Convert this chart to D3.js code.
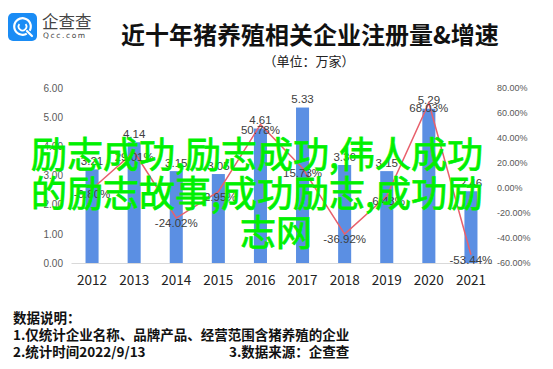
<!DOCTYPE html>
<html>
<head>
<meta charset="utf-8">
<script src="https://cdn.jsdelivr.net/npm/d3@7"></script>
<style>
  body { margin: 0; background: #fff; }
  svg { display: block; font-family: "Noto Sans CJK SC", "Noto Sans", sans-serif; }
</style>
</head>
<body>
<div id="chart"></div>
<script>
// Data
let years = ["2012", "2013", "2014", "2015", "2016", "2017", "2018", "2019", "2020", "2021"]
let counts = [3.21, 4.14, 3.15, 3.05, 4.61, 5.33, 3.36, 3.15, 5.29, 2.46]
let growth = [-0.80, 29.01, -24.02, -2.95, 50.78, 15.73, -36.92, -6.48, 68.03, -53.44]
let leftTicks = [0, 1, 2, 3, 4, 5, 6]
let rightTicks = [-60, -40, -20, 0, 20, 40, 60, 80]

let title = "近十年猪养殖相关企业注册量&增速"
let subtitle = "（单位：万家）"
let notes = ["数据说明：", "1.仅统计企业名称、品牌产品、经营范围含猪养殖的企业", "2.统计时间2022/9/13"]
let source = "3.数据来源：企查查"
let overlay = ["励志成功,励志成功,伟人成功", "的励志故事,成功励志,成功励", "志网"]

let w = 553
let h = 369
let plotLeft = 71, plotRight = 492, plotTop = 88, plotBottom = 263

let svg = d3.select("#chart").append("svg").attr("width", w).attr("height", h)

// Logo
let logo = svg.append("g")
logo.append("rect").attr("x", 8).attr("y", 13).attr("width", 29).attr("height", 28).attr("rx", 5).attr("fill", "#1a8cf5")
logo.append("path")
    .attr("d", d3.arc()({ innerRadius: 7.2, outerRadius: 9.4, startAngle: 2.6, endAngle: 2 * Math.PI + 2.1 }))
    .attr("transform", "translate(22.5,26.5)").attr("fill", "#fff")
logo.append("path")
    .attr("d", d3.arc()({ innerRadius: 3, outerRadius: 4.8, startAngle: 0.9, endAngle: 2 * Math.PI - 0.9 }))
    .attr("transform", "translate(22.5,26.5)").attr("fill", "#fff")
logo.append("line").attr("x1", 27).attr("y1", 31).attr("x2", 32).attr("y2", 36)
    .attr("stroke", "#fff").attr("stroke-width", 2.2).attr("stroke-linecap", "round")
svg.append("text").attr("x", 42).attr("y", 28).attr("font-size", 16.5).attr("fill", "#444").text("企查查")
svg.append("text").attr("x", 43).attr("y", 37.5).attr("font-size", 7.5).attr("letter-spacing", 1.6)
    .attr("font-family", "DejaVu Sans").attr("fill", "#444").text("Qcc.com")

// Titles
svg.append("text").attr("x", 310).attr("y", 33).attr("text-anchor", "middle").attr("dominant-baseline", "central")
    .attr("font-size", 24).attr("font-weight", "bold").attr("fill", "#111").text(title)
svg.append("text").attr("x", 309).attr("y", 60).attr("text-anchor", "middle").attr("dominant-baseline", "central")
    .attr("font-size", 13).attr("fill", "#222").text(subtitle)

// Scales
let xScale = d3.scaleBand().domain(years).range([plotLeft, plotRight]).paddingInner(0.69).paddingOuter(0.345)
let yLeft = d3.scaleLinear().domain([0, 6]).range([plotBottom, plotTop])
let yRight = d3.scaleLinear().domain([-60, 80]).range([plotBottom, plotTop])
let cx = d => xScale(d) + xScale.bandwidth() / 2

// Axes
let yAxisL = d3.axisLeft(yLeft).tickValues(leftTicks).tickFormat(d3.format(".2f")).tickSize(0).tickPadding(7)
svg.append("g").attr("id", "y-axis").attr("transform", "translate(" + (plotLeft - 1) + ",0)").call(yAxisL)
    .call(g => g.select(".domain").remove())
    .selectAll("text").attr("font-family", "Liberation Sans").attr("font-size", 10).attr("fill", "#595959")

let yAxisR = d3.axisRight(yRight).tickValues(rightTicks).tickFormat(d => d.toFixed(2) + "%").tickSize(0).tickPadding(5)
svg.append("g").attr("id", "y-axis-right").attr("transform", "translate(" + plotRight + ",0)").call(yAxisR)
    .call(g => g.select(".domain").remove())
    .selectAll("text").attr("font-family", "Liberation Sans").attr("font-size", 9).attr("fill", "#595959")

let xAxis = d3.axisBottom(xScale).tickSize(0).tickPadding(12)
svg.append("g").attr("id", "x-axis").attr("transform", "translate(0," + plotBottom + ")").call(xAxis)
    .call(g => g.select(".domain").attr("stroke", "#d9d9d9"))
    .selectAll("text").attr("font-family", "Noto Sans CJK SC").attr("font-size", 13.5).attr("fill", "#222")

// Bars
svg.selectAll(".bar").data(years).enter().append("rect")
    .attr("class", "bar")
    .attr("x", d => xScale(d))
    .attr("width", xScale.bandwidth())
    .attr("y", (d, i) => yLeft(counts[i]))
    .attr("height", (d, i) => plotBottom - yLeft(counts[i]))
    .attr("fill", "#5b8fe3")

svg.selectAll(".bar-label").data(years).enter().append("text")
    .attr("class", "bar-label")
    .attr("x", d => cx(d))
    .attr("y", (d, i) => yLeft(counts[i]) - 8.5)
    .attr("text-anchor", "middle").attr("dominant-baseline", "central")
    .attr("font-family", "Liberation Sans").attr("font-size", 11.5).attr("fill", "#404040")
    .text((d, i) => counts[i].toFixed(2))

// Growth line
let line = d3.line().x(d => cx(d[0])).y(d => yRight(d[1]))
svg.append("path").datum(years.map((y, i) => [y, growth[i]]))
    .attr("d", line).attr("fill", "none").attr("stroke", "#e8606c").attr("stroke-width", 1.5)

svg.selectAll(".rate-label").data(years).enter().append("text")
    .attr("class", "rate-label")
    .attr("x", d => cx(d))
    .attr("y", (d, i) => yRight(growth[i]) + 5)
    .attr("text-anchor", "middle").attr("dominant-baseline", "central")
    .attr("font-family", "Liberation Sans").attr("font-size", 11.5).attr("fill", "#404040")
    .text((d, i) => growth[i].toFixed(2) + "%")

// Notes at the bottom
svg.selectAll(".note").data(notes).enter().append("text")
    .attr("class", "note")
    .attr("x", 13).attr("y", (d, i) => 317 + i * 17)
    .attr("dominant-baseline", "central")
    .attr("font-size", 13.5).attr("font-weight", "bold").attr("fill", "#111")
    .text(d => d)
svg.append("text").attr("x", 229).attr("y", 351).attr("dominant-baseline", "central")
    .attr("font-size", 13.5).attr("font-weight", "bold").attr("fill", "#111").text(source)

// Green text laid over the chart
svg.selectAll(".overlay").data(overlay).enter().append("text")
    .attr("class", "overlay")
    .attr("x", (d, i) => i < 2 ? 257 : 276)
    .attr("y", (d, i) => 152 + i * 39)
    .attr("text-anchor", "middle").attr("dominant-baseline", "central")
    .attr("font-size", 36).attr("fill", "#00f000")
    .attr("stroke", "#00f000").attr("stroke-width", 0.8)
    .text(d => d)
</script>
</body>
</html>
